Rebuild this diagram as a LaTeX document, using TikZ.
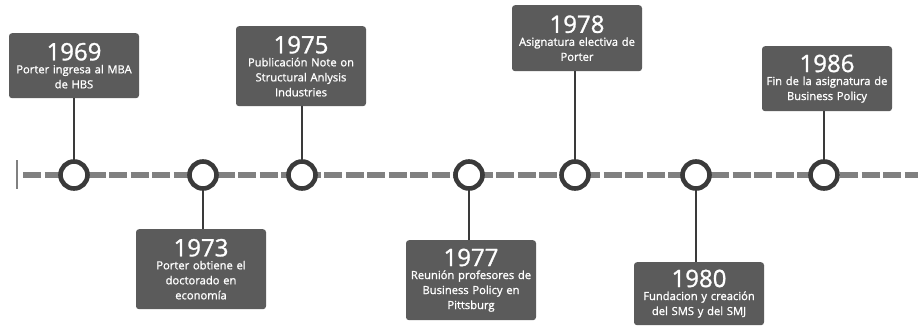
\documentclass[tikz,border=0pt]{standalone}
\usepackage{fontspec}
\setmainfont{Open Sans}
\newfontfamily\labelfont{Open Sans}[FakeBold=1.2]
\definecolor{boxgray}{HTML}{5B5B5B}
\definecolor{ringgray}{HTML}{3A3A3A}
\definecolor{axisgray}{HTML}{808080}
\begin{document}
\begin{tikzpicture}[x=1pt,y=-1pt,
  event/.style={fill=boxgray, rounded corners=3pt, text=white, align=center,
    minimum width=130pt, text width=130pt, inner sep=0pt,
    font=\labelfont\fontsize{11.2}{15}\selectfont},
  milestone/.style={circle, draw=ringgray, line width=4.6pt, fill=white,
    minimum size=27pt, inner sep=0pt},
  stem/.style={draw=ringgray, line width=1.6pt},
  axis/.style={draw=axisgray, line width=6pt, dash pattern=on 18pt off 3.5pt}]
\useasboundingbox (0,0) rectangle (918,327);
\newcommand{\yr}[1]{{\fontsize{24}{25}\selectfont #1}\\[-2pt]}

% timeline axis
\coordinate (axstart) at (23,175);
\coordinate (axend) at (918,175);
\coordinate (bartop) at (17,160);
\coordinate (barbot) at (17,189);
\draw[axis] (axstart) -- (axend);
\draw[axisgray, line width=2pt] (bartop) -- (barbot);

% event boxes
\node[event, minimum height=65pt, anchor=north] (e1969) at (74,33)
  {\yr{1969}Porter ingresa al MBA\\de HBS};
\node[event, minimum height=80pt, anchor=north] (e1975) at (301,26)
  {\yr{1975}Publicación Note on\\Structural Anlysis\\Industries};
\node[event, minimum height=66pt, anchor=north] (e1978) at (577,5)
  {\yr{1978}Asignatura electiva de\\Porter};
\node[event, minimum height=65pt, anchor=north] (e1986) at (827,46)
  {\yr{1986}Fin de la asignatura de\\Business Policy};
\node[event, minimum height=80pt, anchor=north] (e1973) at (201,229)
  {\yr{1973}Porter obtiene el\\doctorado en\\economía};
\node[event, minimum height=80pt, anchor=north] (e1977) at (471,240)
  {\yr{1977}Reunión profesores de\\Business Policy en\\Pittsburg};
\node[event, minimum height=63pt, anchor=north] (e1980) at (699,262)
  {\yr{1980}Fundacion y creación\\del SMS y del SMJ};

% milestone positions on the axis
\coordinate (p1969) at (74,175);
\coordinate (p1973) at (203,175);
\coordinate (p1975) at (302,175);
\coordinate (p1977) at (469,175);
\coordinate (p1978) at (575,175);
\coordinate (p1980) at (696,175);
\coordinate (p1986) at (824,175);

% stems from boxes to axis
\foreach \y in {1969,1975,1978,1986}
  \draw[stem] (p\y) -- (p\y |- e\y.south);
\foreach \y in {1973,1977,1980}
  \draw[stem] (p\y) -- (p\y |- e\y.north);

% milestone rings
\foreach \y in {1969,1973,1975,1977,1978,1980,1986}
  \node[milestone] (m\y) at (p\y) {};
\end{tikzpicture}
\end{document}
